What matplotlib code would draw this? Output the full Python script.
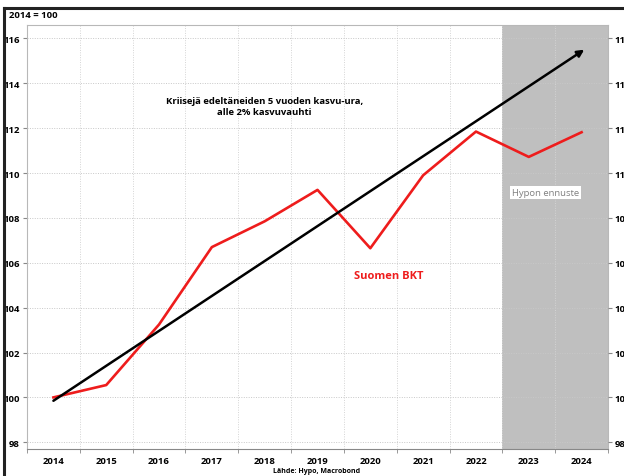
import matplotlib
matplotlib.use("Agg")
import matplotlib.pyplot as plt
from matplotlib.lines import Line2D
import numpy as np

years = ["2014", "2015", "2016", "2017", "2018", "2019", "2020", "2021", "2022", "2023", "2024"]
gdp = [100.0, 100.55, 103.25, 106.7, 107.85, 109.25, 106.65, 109.9, 111.85, 110.72, 111.82]
trend_start = 99.85
trend_end = 115.5
yticks = [98, 100, 102, 104, 106, 108, 110, 112, 114, 116]

plt.rcParams['font.family'] = ['Open Sans', 'DejaVu Sans']

fig = plt.figure(figsize=(6.24, 4.77), dpi=100)
ax = fig.add_axes([27/624, 1-450/477, (608-27)/624, (450-26)/477])

x = np.arange(len(years))
ax.set_xlim(-0.5, len(years) - 0.5)
ax.set_ylim(97.7, 116.6)

# forecast shading
ax.axvspan(8.5, 10.5, color='#bfbfbf', zorder=0, lw=0)

# grid
ax.set_yticks(yticks)
ax.set_xticks(x)
ax.set_xticks(np.arange(-0.5, len(years)), minor=True)
ax.set_xticklabels(years, fontsize=6.8, fontweight='bold')
ax.set_yticklabels([str(v) for v in yticks], fontsize=6.8, fontweight='bold')
ax.grid(True, axis='y', which='major', color='#c8c8c8', linestyle=(0, (1, 1.5)), lw=0.7, zorder=0.5)
ax.grid(True, axis='x', which='minor', color='#d4d4d4', linestyle=(0, (1, 1.5)), lw=0.7, zorder=0.5)
ax.tick_params(axis='x', which='major', length=0, pad=5)
ax.tick_params(axis='x', which='minor', length=3, color='#888888')
ax.tick_params(axis='y', length=3, color='#888888', pad=2)
for s in ax.spines.values():
    s.set_color('#b8b8b8')
    s.set_linewidth(0.8)
ax.spines['bottom'].set_color('#888888')

# right axis
ax2 = ax.twinx()
ax2.set_ylim(ax.get_ylim())
ax2.set_yticks(yticks)
ax2.set_yticklabels([str(v) for v in yticks], fontsize=6.8, fontweight='bold')
ax2.tick_params(axis='y', length=3, color='#888888', pad=2)
for s in ax2.spines.values():
    s.set_visible(False)

# lines
ax.plot(x, gdp, color='#ee1c1c', lw=1.9, zorder=3)
ax.annotate('', xy=(10.05, trend_end), xytext=(0, trend_start),
            arrowprops=dict(arrowstyle='-|>', color='black', lw=1.8,
                            mutation_scale=10, shrinkA=0, shrinkB=0), zorder=4)

# texts
ax.text(4.0, 113.0, "Kriisejä edeltäneiden 5 vuoden kasvu-ura,\nalle 2% kasvuvauhti",
        ha='center', va='center', fontsize=6.8, fontweight='bold', linespacing=1.3)
ax.text(6.34, 105.45, "Suomen BKT", ha='center', va='center', fontsize=8,
        fontweight='bold', color='#ee1c1c')
ax.text(9.32, 109.15, "Hypon ennuste", ha='center', va='center', fontsize=6.8,
        color='#808080', bbox=dict(facecolor='white', edgecolor='none', pad=1.5))

fig.text(9/624, 1-16/477, "2014 = 100", ha='left', va='center', fontsize=6.8, fontweight='bold')
fig.text(317/624, 1-472/477, "Lähde: Hypo, Macrobond", ha='center', va='center', fontsize=5, fontweight='bold')

# frame
fig.add_artist(Line2D([4/624, 4/624], [0, 1-9/477], color='#222222', lw=2.2, transform=fig.transFigure))
fig.add_artist(Line2D([4/624, 1], [1-9/477, 1-9/477], color='#222222', lw=2.2, transform=fig.transFigure))

fig.savefig("out.png", dpi=100)
